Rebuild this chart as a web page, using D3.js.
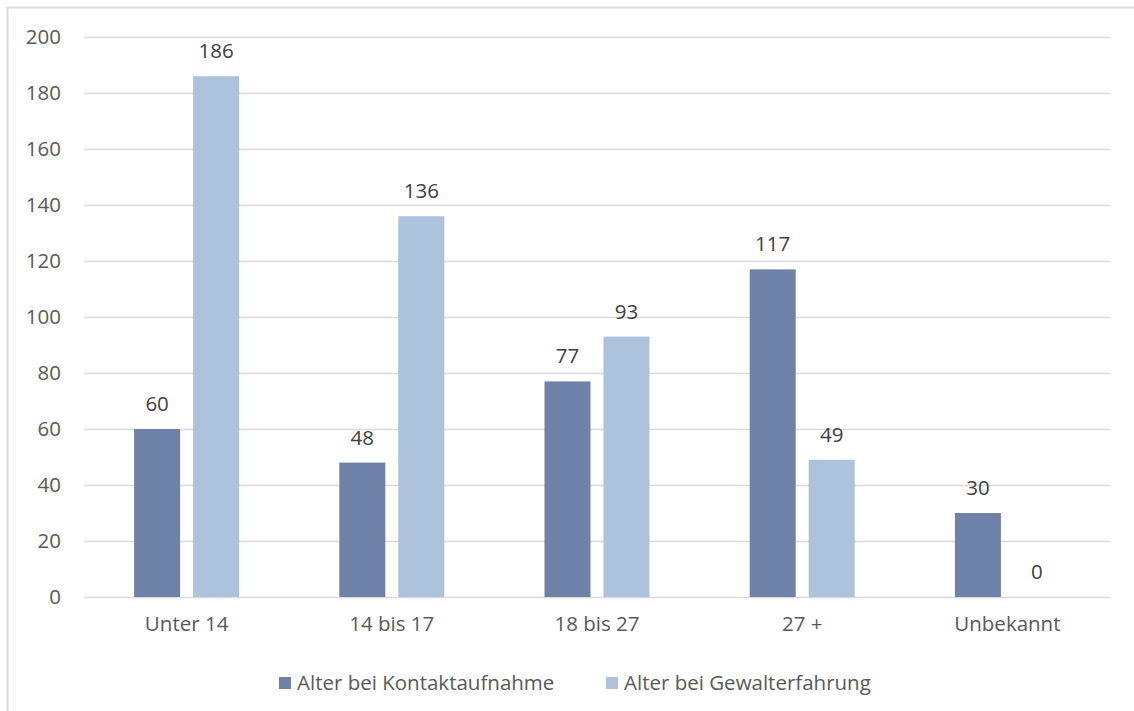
<!DOCTYPE html>
<html><head><meta charset="utf-8">
<script src="https://cdn.jsdelivr.net/npm/d3@7"></script>
<style>html,body{margin:0;padding:0;background:#fff;overflow:hidden}</style>
</head><body>
<svg id="chart" width="1134" height="711"></svg>
<script>
const categories = ["Unter 14", "14 bis 17", "18 bis 27", "27 +", "Unbekannt"];
const seriesNames = ["Alter bei Kontaktaufnahme", "Alter bei Gewalterfahrung"];
const kontakt = [60, 48, 77, 117, 30];
const gewalt = [186, 136, 93, 49, 0];
const yTicks = [0, 20, 40, 60, 80, 100, 120, 140, 160, 180, 200];
const colors = ["#6E82A8", "#ADC2DC"];

(function () {
const svg = d3.select("#chart");
const font = "'Open Sans', sans-serif";
const textColor = "#595959";
const fs = 20.5;

// outer chart border (partially visible)
svg.append("rect").attr("x", 7.5).attr("y", 7.5).attr("width", 1300).attr("height", 900)
  .attr("fill", "none").attr("stroke", "#d9d9d9").attr("stroke-width", 2);

const pLeft = 84, pRight = 1110, pTop = 37, pBottom = 597;
const x = d3.scaleBand().domain(categories).range([pLeft, pRight]);
const y = d3.scaleLinear().domain([0, 200]).range([pBottom, pTop]);
const inner = d3.scaleBand().domain([0, 1]).range([-52.5, 52.5]).paddingInner(0.22);

// gridlines
svg.append("g").selectAll("line").data(yTicks).join("line")
  .attr("x1", pLeft).attr("x2", pRight)
  .attr("y1", d => Math.round(y(d)) + 0.5).attr("y2", d => Math.round(y(d)) + 0.5)
  .attr("stroke", "#d9d9d9").attr("stroke-width", 1.5);

// y axis labels
const yAxis = d3.axisLeft(y).tickValues(yTicks).tickSize(0).tickPadding(0);
const yg = svg.append("g").attr("transform", `translate(61,0)`).call(yAxis);
yg.select(".domain").remove();
yg.selectAll("text").attr("font-family", font).attr("font-size", fs).attr("fill", textColor).attr("dy", "0.34em");

// x axis labels
const xAxis = d3.axisBottom(x).tickSize(0).tickPadding(0);
const xg = svg.append("g").attr("transform", `translate(0,${pBottom + 19})`).call(xAxis);
xg.select(".domain").remove();
xg.selectAll("text").attr("font-family", font).attr("font-size", fs).attr("fill", textColor).attr("dy", "0.71em");

const series = [kontakt, gewalt];
series.forEach((vals, si) => {
  const g = svg.append("g");
  g.selectAll("rect").data(vals).join("rect")
    .attr("x", (d, i) => x(categories[i]) + x.bandwidth() / 2 + inner(si))
    .attr("width", inner.bandwidth())
    .attr("y", d => y(d))
    .attr("height", d => y(0) - y(d))
    .attr("fill", colors[si]);
  g.selectAll("text").data(vals).join("text")
    .attr("x", (d, i) => x(categories[i]) + x.bandwidth() / 2 + inner(si) + inner.bandwidth() / 2)
    .attr("y", d => y(d) - 18)
    .attr("text-anchor", "middle")
    .attr("font-family", font).attr("font-size", fs).attr("fill", "#404040")
    .text(d => d);
});

// legend
const legendX = [279, 606];
const legend = svg.append("g");
seriesNames.forEach((name, i) => {
  legend.append("rect").attr("x", legendX[i]).attr("y", 677).attr("width", 12).attr("height", 12).attr("fill", colors[i]);
  legend.append("text").attr("x", legendX[i] + 18).attr("y", 683).attr("dy", "0.35em")
    .attr("font-family", font).attr("font-size", fs).attr("fill", textColor).text(name);
});
})();
</script>
</body></html>
